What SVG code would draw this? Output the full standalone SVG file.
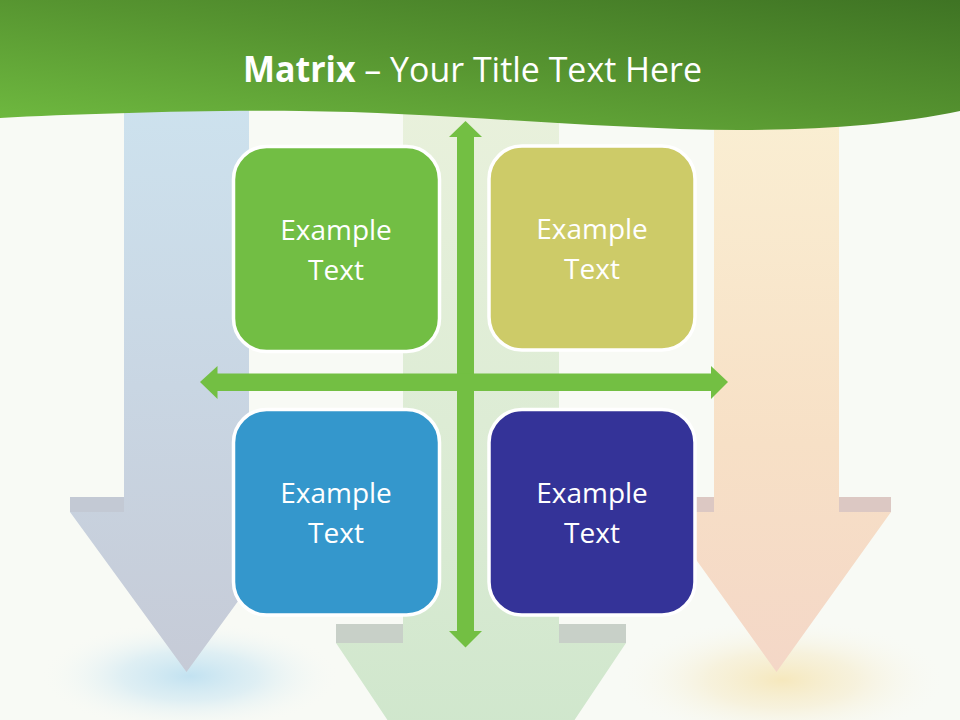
<svg xmlns="http://www.w3.org/2000/svg" width="960" height="720" viewBox="0 0 960 720">
<defs>
<style>
.box{stroke:#ffffff;stroke-width:3.5}
.lbl{font-family:"Open Sans","Noto Sans",sans-serif;font-size:28px;fill:#ffffff;text-anchor:middle}
.title{font-family:"Open Sans","Noto Sans",sans-serif;font-size:35px;fill:#ffffff}
.cross{fill:#73bf43}
</style>
<linearGradient id="hdr" gradientUnits="userSpaceOnUse" x1="0" y1="118" x2="34" y2="-127">
<stop offset="0" stop-color="#6eb83f"/>
<stop offset="0.5" stop-color="#569430"/>
<stop offset="1" stop-color="#3f7424"/>
</linearGradient>
<linearGradient id="blueG" x1="0" y1="0" x2="0" y2="1">
<stop offset="0" stop-color="#cde2ee"/>
<stop offset="0.5" stop-color="#c9d6e3"/>
<stop offset="1" stop-color="#c6cbd7"/>
</linearGradient>
<linearGradient id="greenG" x1="0" y1="0" x2="0" y2="1">
<stop offset="0" stop-color="#e9f1dc"/>
<stop offset="0.6" stop-color="#d8ead2"/>
<stop offset="1" stop-color="#c9e4c8"/>
</linearGradient>
<linearGradient id="orangeG" x1="0" y1="0" x2="0" y2="1">
<stop offset="0" stop-color="#faefd3"/>
<stop offset="0.6" stop-color="#f7e0c6"/>
<stop offset="1" stop-color="#f4d7c7"/>
</linearGradient>
<radialGradient id="glowB">
<stop offset="0" stop-color="#c2e2f1"/>
<stop offset="0.45" stop-color="#d6ebf3" stop-opacity="0.75"/>
<stop offset="1" stop-color="#f8faf5" stop-opacity="0"/>
</radialGradient>
<radialGradient id="glowO">
<stop offset="0" stop-color="#f6e8bd"/>
<stop offset="0.45" stop-color="#f6eed2" stop-opacity="0.7"/>
<stop offset="1" stop-color="#f8faf5" stop-opacity="0"/>
</radialGradient>
</defs>
<rect width="960" height="720" fill="#f8faf5"/>
<ellipse cx="190" cy="676" rx="150" ry="55" fill="url(#glowB)"/>
<ellipse cx="782" cy="680" rx="165" ry="62" fill="url(#glowO)"/>
<g id="bg-arrow-blue">
<polygon points="124,100 249,100 249,497 303,497 303,512 186.5,672 70,512 70,497 124,497" fill="url(#blueG)"/>
<rect x="70" y="497" width="54" height="15" fill="#c3c9d4"/>
</g>
<g id="bg-arrow-green">
<polygon points="403,100 559,100 559,624 626,624 626,643 481,860 336,643 336,624 403,624" fill="url(#greenG)"/>
<rect x="336" y="624" width="67" height="19" fill="#c8d0c8"/>
<rect x="559" y="624" width="67" height="19" fill="#c8d0c8"/>
</g>
<g id="bg-arrow-orange">
<polygon points="714,100 839,100 839,497 891,497 891,512 776.5,672 662,512 662,497 714,497" fill="url(#orangeG)"/>
<rect x="839" y="497" width="52" height="15" fill="#dcc8c3"/>
<rect x="662" y="497" width="52" height="15" fill="#dcc8c3"/>
</g>
<g id="header">
<path d="M0,0 H960 V111 C880,128 780,132 680,129 C540,124 420,112 300,111 C200,110 80,114 0,118 Z" fill="url(#hdr)"/>
<text class="title" x="243" y="82" textLength="459" lengthAdjust="spacingAndGlyphs"><tspan font-weight="bold">Matrix</tspan> – Your Title Text Here</text>
</g>
<g id="connectors">
<polygon class="cross" points="465.5,121 482,137 474,137 474,631 482,631 465.5,647.5 449,631 457,631 457,137 449,137"/>
<polygon class="cross" points="200,382 217.5,366 217.5,373.5 711,373.5 711,366 728,382 711,399 711,391 217.5,391 217.5,399"/>
</g>
<g id="node-tl">
<rect class="box" x="233.5" y="146.5" width="206" height="205" rx="33" fill="#72be44"/>
<text class="lbl" x="336" y="240">Example</text>
<text class="lbl" x="336" y="280">Text</text>
</g>
<g id="node-tr">
<rect class="box" x="489" y="146" width="206" height="204" rx="33" fill="#cdcb68"/>
<text class="lbl" x="592" y="238.5">Example</text>
<text class="lbl" x="592" y="278.5">Text</text>
</g>
<g id="node-bl">
<rect class="box" x="233.5" y="409.5" width="206" height="205.5" rx="33" fill="#3497cc"/>
<text class="lbl" x="336" y="502.5">Example</text>
<text class="lbl" x="336" y="542.5">Text</text>
</g>
<g id="node-br">
<rect class="box" x="489" y="409.5" width="206" height="205.5" rx="33" fill="#343398"/>
<text class="lbl" x="592" y="502.5">Example</text>
<text class="lbl" x="592" y="542.5">Text</text>
</g>
</svg>
